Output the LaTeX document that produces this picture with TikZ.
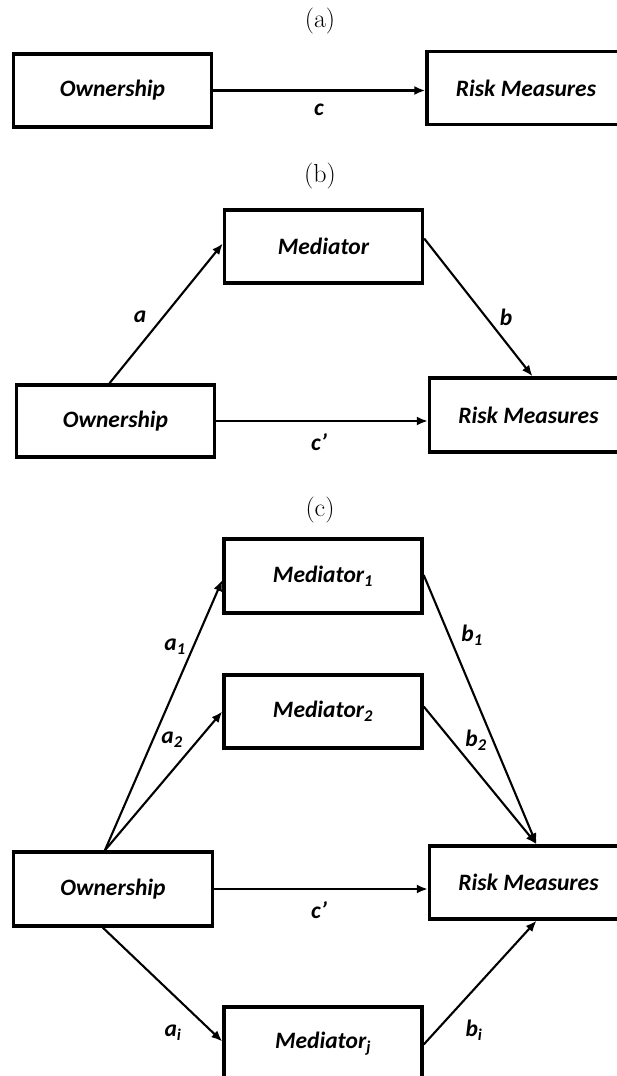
\documentclass[tikz,border=0pt]{standalone}
\usepackage{fontspec}
\newfontfamily\calfont{Carlito}
\usetikzlibrary{arrows.meta,calc}
\tikzset{
  box/.style={draw, line width=3.4pt, minimum width=198pt, minimum height=73pt, inner sep=0pt,
    font=\calfont\bfseries\itshape\fontsize{23.5}{27}\selectfont},
  lbl/.style={inner sep=0pt, font=\calfont\bfseries\itshape\fontsize{23.5}{27}\selectfont},
  panellbl/.style={inner sep=0pt, font=\fontsize{26}{30}\selectfont},
  arr/.style={line width=2.1pt, -{Latex[length=11pt,width=9pt]}}
}
\begin{document}
\begin{tikzpicture}[x=1pt,y=-1pt]
\useasboundingbox (0,0) rectangle (617,1076);
\clip (0,0) rectangle (617,1076);
\fill[white] (0,0) rectangle (617,1076);

% (a)
\node[panellbl] (capa) at (320,21) {(a)};
\node[box] (oa) at (112.5,90.5) {Ownership};
\node[box] (ra) at (526,88) {Risk Measures};
\draw[arr] (oa.east) -- (oa.east -| ra.west);
\node[lbl] (lc) at (319,110) {c};

% (b)
\node[panellbl] (capb) at (320,176) {(b)};
\node[box] (mb) at (323.5,246.5) {Mediator};
\node[box, minimum height=72pt] (ob) at (115.5,421) {Ownership};
\node[box, minimum height=74pt] (rb) at (528.5,415) {Risk Measures};
\draw[arr] ($(ob.north west)!0.47!(ob.north east)$) -- ([yshift=3pt]mb.west);
\draw[arr] ([yshift=8pt]mb.east) -- ($(rb.north west)!0.52!(rb.north east)$);
\draw[arr] (ob.east) -- (ob.east -| rb.west);
\node[lbl] (la) at (140,317) {a};
\node[lbl] (lb) at (506,317) {b};
\node[lbl] (lcp) at (319,442) {c’};

% (c)
\node[panellbl] (capc) at (320,510) {(c)};
\node[box, minimum height=74pt] (m1) at (323,576) {Mediator\textsubscript{1}};
\node[box] (m2) at (323,711.5) {Mediator\textsubscript{2}};
\node[box, minimum width=199pt, minimum height=74pt] (oc) at (113,889) {Ownership};
\node[box] (rc) at (528.5,882.5) {Risk Measures};
\node[box] (mj) at (323,1043.5) {Mediator\textsubscript{j}};
\coordinate (ostart) at ($(oc.north west)!0.46!(oc.north east)$);
\coordinate (rend) at ($(rc.north west)!0.54!(rc.north east)$);
\draw[arr] (ostart) -- ([yshift=-4pt]m1.west);
\draw[arr] (ostart) -- (m2.west);
\draw[arr] ([yshift=1pt]m1.east) -- (rend);
\draw[arr] ([yshift=5pt]m2.east) -- (rend);
\draw[arr] (oc.east) -- (oc.east -| rc.west);
\draw[arr] ($(oc.south west)!0.45!(oc.south east)$) -- ([yshift=2pt]mj.west);
\draw[arr] ([yshift=-1pt]mj.east) -- ($(rc.south west)!0.54!(rc.south east)$);
\node[lbl] (la1) at (175,647) {a\textsubscript{1}};
\node[lbl] (lb1) at (472,635) {b\textsubscript{1}};
\node[lbl] (la2) at (172,740) {a\textsubscript{2}};
\node[lbl] (lb2) at (476,740) {b\textsubscript{2}};
\node[lbl] (lcc) at (319,910) {c’};
\node[lbl] (lai) at (173,1033) {a\textsubscript{i}};
\node[lbl] (lbi) at (474,1030) {b\textsubscript{i}};
\end{tikzpicture}
\end{document}
